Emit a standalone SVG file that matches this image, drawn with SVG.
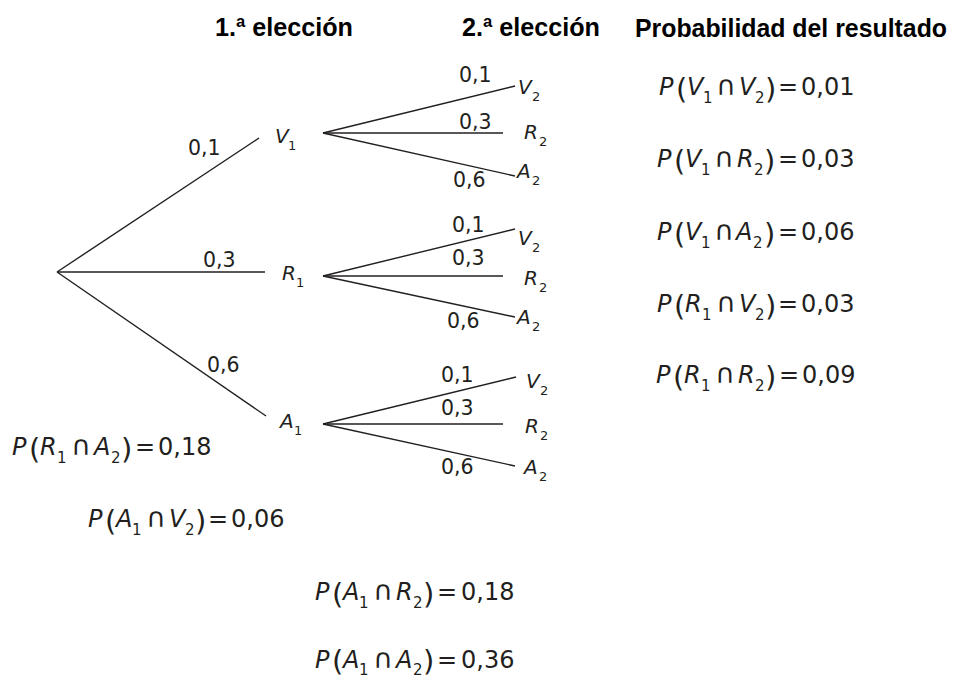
<svg xmlns="http://www.w3.org/2000/svg" width="957" height="680" viewBox="0 0 957 680">
<style>
.hdr{font-family:"Liberation Sans",Arial,sans-serif;font-weight:bold;font-size:25px;fill:#000}
.num{font-family:"DejaVu Sans",sans-serif;font-size:20.5px;fill:#231f20}
.var{font-family:"DejaVu Sans",sans-serif;font-style:italic;font-size:20px;fill:#231f20}
.sub{font-family:"DejaVu Sans",sans-serif;font-size:13px;fill:#231f20}
.f{font-family:"DejaVu Sans",sans-serif;font-size:24px;fill:#231f20}
.fi{font-style:italic}
.fp{font-size:29px}
.fs{font-size:15px}
.fc{font-size:27px}
line{stroke:#231f20;stroke-width:1.4}
</style>
<rect width="957" height="680" fill="#fff"/>
<g id="headers">
<text class="hdr" x="215" y="36" textLength="138" lengthAdjust="spacingAndGlyphs">1.ª elección</text>
<text class="hdr" x="462" y="36" textLength="138" lengthAdjust="spacingAndGlyphs">2.ª elección</text>
<text class="hdr" x="635" y="37" textLength="312" lengthAdjust="spacingAndGlyphs">Probabilidad del resultado</text>
</g>
<g id="connectors">
<line x1="57" y1="272" x2="259" y2="138"/>
<line x1="57" y1="272" x2="265" y2="272"/>
<line x1="57" y1="272" x2="266" y2="416"/>
<line x1="323" y1="133" x2="515" y2="86"/>
<line x1="323" y1="133" x2="503" y2="133"/>
<line x1="323" y1="133" x2="515" y2="176"/>
<line x1="323" y1="276" x2="515" y2="229"/>
<line x1="323" y1="276" x2="503" y2="276"/>
<line x1="323" y1="276" x2="515" y2="317"/>
<line x1="323" y1="424" x2="516" y2="377"/>
<line x1="323" y1="424" x2="503" y2="424"/>
<line x1="323" y1="424" x2="515" y2="466"/>
</g>
<g id="edge-labels">
<text class="num" x="188" y="155">0,1</text>
<text class="num" x="203" y="267">0,3</text>
<text class="num" x="207" y="372">0,6</text>
<text class="num" x="459" y="82">0,1</text>
<text class="num" x="459" y="129">0,3</text>
<text class="num" x="453" y="187">0,6</text>
<text class="num" x="452" y="232">0,1</text>
<text class="num" x="452" y="265">0,3</text>
<text class="num" x="447" y="328">0,6</text>
<text class="num" x="441" y="382">0,1</text>
<text class="num" x="441" y="415">0,3</text>
<text class="num" x="441" y="474">0,6</text>
</g>
<g id="node-V1"><text class="var" x="275" y="143">V</text><text class="sub" x="288" y="150">1</text></g>
<g id="node-R1"><text class="var" x="282" y="280">R</text><text class="sub" x="296" y="287">1</text></g>
<g id="node-A1"><text class="var" x="280" y="428">A</text><text class="sub" x="294" y="435">1</text></g>
<g id="node-V1V2"><text class="var" x="518" y="94">V</text><text class="sub" x="532" y="101">2</text></g>
<g id="node-V1R2"><text class="var" x="524" y="139">R</text><text class="sub" x="539" y="146">2</text></g>
<g id="node-V1A2"><text class="var" x="517" y="178">A</text><text class="sub" x="532" y="185">2</text></g>
<g id="node-R1V2"><text class="var" x="518" y="245">V</text><text class="sub" x="532" y="252">2</text></g>
<g id="node-R1R2"><text class="var" x="524" y="285">R</text><text class="sub" x="539" y="292">2</text></g>
<g id="node-R1A2"><text class="var" x="517" y="324">A</text><text class="sub" x="532" y="331">2</text></g>
<g id="node-A1V2"><text class="var" x="526" y="388">V</text><text class="sub" x="540" y="395">2</text></g>
<g id="node-A1R2"><text class="var" x="525" y="433">R</text><text class="sub" x="540" y="440">2</text></g>
<g id="node-A1A2"><text class="var" x="524" y="474">A</text><text class="sub" x="539" y="481">2</text></g>
<g id="results">
<g id="res-V1V2" transform="translate(659,95)"><text class="f"><tspan class="fi" x="0" y="0">P</tspan><tspan class="fp" x="17" y="4">(</tspan><tspan class="fi" x="28" y="0">V</tspan><tspan class="fs" x="44" y="8">1</tspan><tspan class="fc" x="57" y="0">∩</tspan><tspan class="fi" x="80" y="0">V</tspan><tspan class="fs" x="96" y="8">2</tspan><tspan class="fp" x="106" y="4">)</tspan><tspan x="119" y="0">=</tspan><tspan x="142" y="0">0,01</tspan></text></g>
<g id="res-V1R2" transform="translate(657,167)"><text class="f"><tspan class="fi" x="0" y="0">P</tspan><tspan class="fp" x="17" y="4">(</tspan><tspan class="fi" x="28" y="0">V</tspan><tspan class="fs" x="44" y="8">1</tspan><tspan class="fc" x="57" y="0">∩</tspan><tspan class="fi" x="80" y="0">R</tspan><tspan class="fs" x="97" y="8">2</tspan><tspan class="fp" x="107" y="4">)</tspan><tspan x="121" y="0">=</tspan><tspan x="144" y="0">0,03</tspan></text></g>
<g id="res-V1A2" transform="translate(657,240)"><text class="f"><tspan class="fi" x="0" y="0">P</tspan><tspan class="fp" x="17" y="4">(</tspan><tspan class="fi" x="28" y="0">V</tspan><tspan class="fs" x="44" y="8">1</tspan><tspan class="fc" x="57" y="0">∩</tspan><tspan class="fi" x="79" y="0">A</tspan><tspan class="fs" x="96" y="8">2</tspan><tspan class="fp" x="107" y="4">)</tspan><tspan x="121" y="0">=</tspan><tspan x="144" y="0">0,06</tspan></text></g>
<g id="res-R1V2" transform="translate(657,312)"><text class="f"><tspan class="fi" x="0" y="0">P</tspan><tspan class="fp" x="17" y="4">(</tspan><tspan class="fi" x="28" y="0">R</tspan><tspan class="fs" x="45" y="8">1</tspan><tspan class="fc" x="59" y="0">∩</tspan><tspan class="fi" x="82" y="0">V</tspan><tspan class="fs" x="98" y="8">2</tspan><tspan class="fp" x="108" y="4">)</tspan><tspan x="121" y="0">=</tspan><tspan x="144" y="0">0,03</tspan></text></g>
<g id="res-R1R2" transform="translate(656,383)"><text class="f"><tspan class="fi" x="0" y="0">P</tspan><tspan class="fp" x="17" y="4">(</tspan><tspan class="fi" x="28" y="0">R</tspan><tspan class="fs" x="45" y="8">1</tspan><tspan class="fc" x="59" y="0">∩</tspan><tspan class="fi" x="82" y="0">R</tspan><tspan class="fs" x="99" y="8">2</tspan><tspan class="fp" x="109" y="4">)</tspan><tspan x="123" y="0">=</tspan><tspan x="146" y="0">0,09</tspan></text></g>
<g id="res-R1A2" transform="translate(12,455)"><text class="f"><tspan class="fi" x="0" y="0">P</tspan><tspan class="fp" x="17" y="4">(</tspan><tspan class="fi" x="28" y="0">R</tspan><tspan class="fs" x="45" y="8">1</tspan><tspan class="fc" x="59" y="0">∩</tspan><tspan class="fi" x="82" y="0">A</tspan><tspan class="fs" x="99" y="8">2</tspan><tspan class="fp" x="109" y="4">)</tspan><tspan x="123" y="0">=</tspan><tspan x="146" y="0">0,18</tspan></text></g>
<g id="res-A1V2" transform="translate(88,527)"><text class="f"><tspan class="fi" x="0" y="0">P</tspan><tspan class="fp" x="17" y="4">(</tspan><tspan class="fi" x="28" y="0">A</tspan><tspan class="fs" x="44" y="8">1</tspan><tspan class="fc" x="58" y="0">∩</tspan><tspan class="fi" x="81" y="0">V</tspan><tspan class="fs" x="97" y="8">2</tspan><tspan class="fp" x="107" y="4">)</tspan><tspan x="120" y="0">=</tspan><tspan x="143" y="0">0,06</tspan></text></g>
<g id="res-A1R2" transform="translate(315,600)"><text class="f"><tspan class="fi" x="0" y="0">P</tspan><tspan class="fp" x="17" y="4">(</tspan><tspan class="fi" x="28" y="0">A</tspan><tspan class="fs" x="44" y="8">1</tspan><tspan class="fc" x="58" y="0">∩</tspan><tspan class="fi" x="81" y="0">R</tspan><tspan class="fs" x="98" y="8">2</tspan><tspan class="fp" x="108" y="4">)</tspan><tspan x="122" y="0">=</tspan><tspan x="146" y="0">0,18</tspan></text></g>
<g id="res-A1A2" transform="translate(315,668)"><text class="f"><tspan class="fi" x="0" y="0">P</tspan><tspan class="fp" x="17" y="3">(</tspan><tspan class="fi" x="28" y="0">A</tspan><tspan class="fs" x="44" y="7">1</tspan><tspan class="fc" x="58" y="0">∩</tspan><tspan class="fi" x="81" y="0">A</tspan><tspan class="fs" x="98" y="7">2</tspan><tspan class="fp" x="108" y="3">)</tspan><tspan x="122" y="0">=</tspan><tspan x="146" y="0">0,36</tspan></text></g>
</g>
</svg>
